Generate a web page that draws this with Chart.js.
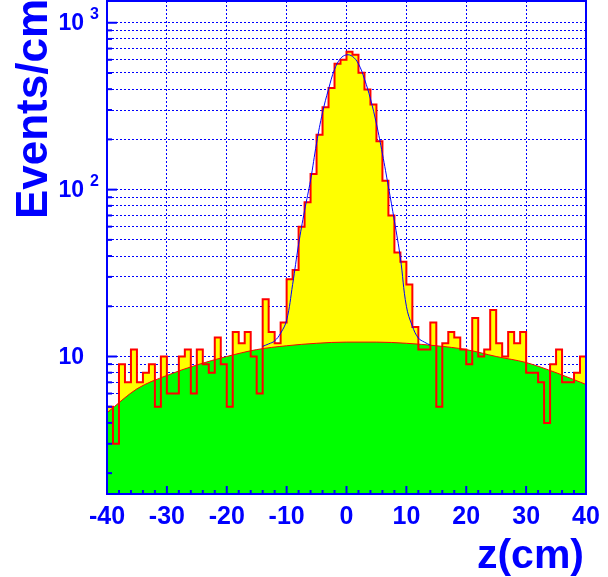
<!DOCTYPE html>
<html>
<head>
<meta charset="utf-8">
<script src="https://cdn.jsdelivr.net/npm/chart.js@4.4.0/dist/chart.umd.min.js"></script>
<style>
  html, body { margin: 0; padding: 0; background: #fff; }
  canvas { display: block; }
</style>
</head>
<body>
<canvas id="zPlot" width="608" height="577"></canvas>
<script>
// histogram: 1 cm bins from -40 to 40
const binLow = -40;
const binWidth = 1;
const counts = [
  5, 3, 9, 7, 11, 7, 8, 9, 5, 10,
  6, 6, 10, 11, 6, 11, 9, 8, 13, 9,
  5, 14, 12, 14, 10, 6, 22, 14, 12, 16,
  29, 33, 60, 84, 124, 213, 312, 407, 567, 601,
  671, 642, 501, 398, 324, 195, 113, 70, 42, 37,
  27, 15, 11, 11, 16, 5, 12, 14, 13, 11,
  9, 17, 10, 11, 19, 12, 10, 14, 12, 14,
  8, 8, 7, 4, 9, 11, 7, 7, 8, 10
];

// background fit (green)
const bgZ   = [-40, -35, -30, -25, -20, -15, -10, -5, 0, 5, 10, 15, 20, 25, 30, 35, 40];
const bgFit = [4.6, 6.4, 7.7, 8.9, 10, 11, 11.6, 12.0, 12.2, 12.2, 12.0, 11.6, 11, 10, 9.2, 8, 6.8];

// total fit, gaussian + background (blue)
const fitZ = [-14, -13, -12, -11, -10, -9, -8, -7, -6, -5, -4, -3, -2, -1, 0,
              1, 2, 3, 4, 5, 6, 7, 8, 9, 10, 11, 12, 13, 14];
const fitTotal = [11.5, 11.9, 12.4, 13.8, 16.5, 27, 47, 75, 114, 190, 290, 400, 525, 610, 642,
                  628, 567, 460, 350, 248, 164, 104, 65, 39, 20, 15.2, 12.9, 12.2, 11.7];

const xTicks = [-40, -30, -20, -10, 0, 10, 20, 30, 40];
const yGrid = [2, 3, 4, 5, 6, 7, 8, 9, 10, 20, 30, 40, 50, 60, 70, 80, 90,
               100, 200, 300, 400, 500, 600, 700, 800, 900, 1000];
const yMajor = [10, 100, 1000];

const blue = '#0000ff';
const fontName = '"Liberation Sans", Arial, Helvetica, sans-serif';

const histPts = counts.map((c, i) => ({x: binLow + i * binWidth, y: c}));
histPts.push({x: binLow + counts.length * binWidth, y: counts[counts.length - 1]});

const bgPts = bgZ.map((z, i) => ({x: z, y: bgFit[i]}));
const fitPts = fitZ.map((z, i) => ({x: z, y: fitTotal[i]}));

// frame, inside ticks, labels and titles
const axisDeco = {
  id: 'axisDeco',
  afterDraw(chart) {
    const ctx = chart.ctx;
    const xs = chart.scales.x, ys = chart.scales.y;
    const a = chart.chartArea;
    ctx.save();
    ctx.strokeStyle = blue;
    ctx.lineWidth = 2;
    ctx.strokeRect(a.left, a.top, a.right - a.left, a.bottom - a.top);

    // bottom ticks, every 2 cm
    for (let z = -38; z < 40; z += 2) {
      const px = xs.getPixelForValue(z);
      const len = z % 10 === 0 ? 8 : 4;
      ctx.beginPath();
      ctx.moveTo(px, a.bottom);
      ctx.lineTo(px, a.bottom - len);
      ctx.stroke();
    }
    // left ticks
    yGrid.forEach(v => {
      const py = ys.getPixelForValue(v);
      const len = yMajor.includes(v) ? 10 : 5;
      ctx.beginPath();
      ctx.moveTo(a.left, py);
      ctx.lineTo(a.left + len, py);
      ctx.stroke();
    });

    ctx.fillStyle = blue;
    // x labels
    ctx.font = 'bold 25px ' + fontName;
    ctx.textAlign = 'center';
    ctx.textBaseline = 'middle';
    xTicks.forEach(z => {
      ctx.fillText(String(z), xs.getPixelForValue(z), 517);
    });

    // y labels
    yMajor.forEach(v => {
      const py = ys.getPixelForValue(v);
      ctx.font = 'bold 23px ' + fontName;
      ctx.textAlign = 'right';
      ctx.textBaseline = 'middle';
      ctx.fillText('10', 84, py + 1);
      const e = Math.round(Math.log10(v));
      if (e > 1) {
        ctx.font = 'bold 16px ' + fontName;
        ctx.textAlign = 'left';
        ctx.textBaseline = 'alphabetic';
        ctx.fillText(String(e), 90, py - 4);
      }
    });

    // axis titles
    ctx.font = 'bold 41px ' + fontName;
    ctx.textAlign = 'right';
    ctx.textBaseline = 'alphabetic';
    ctx.fillText('z(cm)', 584, 568);

    ctx.translate(47, 0);
    ctx.rotate(-Math.PI / 2);
    ctx.font = 'bold 44px ' + fontName;
    ctx.textAlign = 'right';
    ctx.fillText('Events/cm', 1, 0);
    ctx.restore();
  }
};

new Chart(document.getElementById('zPlot'), {
  type: 'line',
  data: {
    datasets: [
      {
        label: 'total fit',
        data: fitPts,
        borderColor: blue,
        borderWidth: 1,
        pointRadius: 0,
        tension: 0.4,
        fill: false
      },
      {
        label: 'data',
        data: histPts,
        stepped: 'before',
        borderColor: '#ff0000',
        borderWidth: 2,
        pointRadius: 0,
        fill: false
      },
      {
        label: 'background',
        data: bgPts,
        borderColor: '#ff0000',
        borderWidth: 1,
        backgroundColor: '#00ff00',
        pointRadius: 0,
        cubicInterpolationMode: 'monotone',
        fill: 'start'
      },
      {
        label: 'data fill',
        data: histPts,
        stepped: 'before',
        borderWidth: 0,
        borderColor: 'rgba(0,0,0,0)',
        backgroundColor: '#ffff00',
        pointRadius: 0,
        fill: 'start'
      }
    ]
  },
  options: {
    responsive: false,
    animation: false,
    layout: {padding: {left: 107, right: 22, top: 1, bottom: 83}},
    plugins: {legend: {display: false}, tooltip: {enabled: false}},
    scales: {
      x: {
        type: 'linear',
        min: -40,
        max: 40,
        z: 1,
        afterBuildTicks: s => { s.ticks = xTicks.map(v => ({value: v})); },
        ticks: {display: false},
        grid: {color: blue, lineWidth: 1, drawTicks: false},
        border: {display: true, color: blue, width: 2, dash: [2, 2]}
      },
      y: {
        type: 'logarithmic',
        min: 1.5,
        max: 1350,
        z: 1,
        afterBuildTicks: s => { s.ticks = yGrid.map(v => ({value: v})); },
        ticks: {display: false},
        grid: {color: blue, lineWidth: 1, drawTicks: false},
        border: {display: true, color: blue, width: 2, dash: [2, 2]}
      }
    }
  },
  plugins: [axisDeco]
});
</script>
</body>
</html>
